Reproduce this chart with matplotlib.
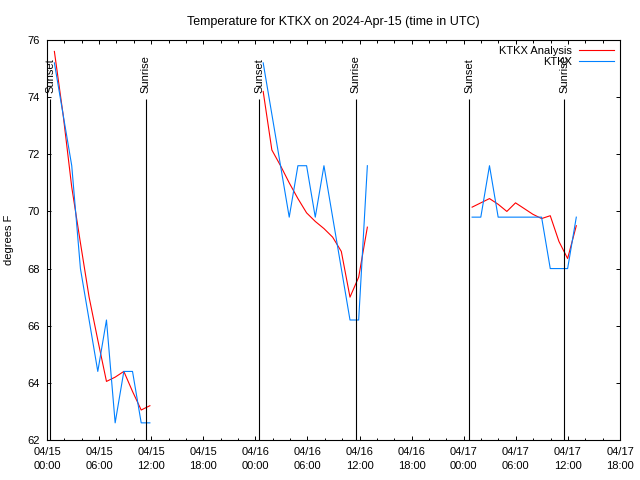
import numpy as np
import matplotlib
matplotlib.use("Agg")
import matplotlib.pyplot as plt
import matplotlib.dates as mdates

# hourly analysis (red) and station obs (blue), three chunks
seg_times = [
    ["2024-04-15T00:51", "2024-04-15T01:51", "2024-04-15T02:51", "2024-04-15T03:51",
     "2024-04-15T04:51", "2024-04-15T05:51", "2024-04-15T06:51", "2024-04-15T07:51",
     "2024-04-15T08:51", "2024-04-15T09:51", "2024-04-15T10:51", "2024-04-15T11:51"],
    ["2024-04-16T00:54", "2024-04-16T01:54", "2024-04-16T02:54", "2024-04-16T03:54",
     "2024-04-16T04:54", "2024-04-16T05:54", "2024-04-16T06:54", "2024-04-16T07:54",
     "2024-04-16T08:54", "2024-04-16T09:54", "2024-04-16T10:54", "2024-04-16T11:54",
     "2024-04-16T12:54"],
    ["2024-04-17T00:58", "2024-04-17T01:58", "2024-04-17T02:58", "2024-04-17T03:58",
     "2024-04-17T04:58", "2024-04-17T05:58", "2024-04-17T06:58", "2024-04-17T07:58",
     "2024-04-17T08:58", "2024-04-17T09:58", "2024-04-17T10:58", "2024-04-17T11:58",
     "2024-04-17T12:58"],
]
analysis = [
    [75.6, 73.4, 70.85, 68.9, 67.0, 65.5, 64.05, 64.2, 64.4, 63.7, 63.05, 63.2],
    [74.2, 72.15, 71.6, 71.0, 70.45, 69.95, 69.65, 69.4, 69.1, 68.6, 67.0, 67.7, 69.45],
    [70.15, 70.3, 70.45, 70.25, 70.0, 70.3, 70.1, 69.9, 69.75, 69.85, 68.95, 68.35, 69.5],
]
obs = [
    [75.2, 73.4, 71.6, 68.0, 66.2, 64.4, 66.2, 62.6, 64.4, 64.4, 62.6, 62.6],
    [75.2, 73.4, 71.6, 69.8, 71.6, 71.6, 69.8, 71.6, 69.8, 68.0, 66.2, 66.2, 71.6],
    [69.8, 69.8, 71.6, 69.8, 69.8, 69.8, 69.8, 69.8, 69.8, 68.0, 68.0, 68.0, 69.8],
]
sunsets = ["2024-04-15T00:21", "2024-04-16T00:27", "2024-04-17T00:38"]
sunrises = ["2024-04-15T11:23", "2024-04-16T11:33", "2024-04-17T11:35"]

xmin, xmax = "2024-04-15T00:00", "2024-04-17T18:00"
ymin, ymax = 62, 76

plt.rcParams['font.family'] = ['Liberation Sans', 'DejaVu Sans']
plt.rcParams['font.size'] = 8

todt = lambda l: np.array(l, dtype='datetime64[m]').astype('O')

fig = plt.figure(figsize=(6.4, 4.8), dpi=100)
ax = fig.add_axes([47/640, 40/480, 573/640, 400/480])

for i in range(len(seg_times)):
    t = todt(seg_times[i])
    ax.plot(t, analysis[i], color='#ff0000', lw=0.8, label='KTKX Analysis' if i == 0 else None)
    ax.plot(t, obs[i], color='#0080ff', lw=0.8, label='KTKX' if i == 0 else None)

for name, lst in (("Sunset", sunsets), ("Sunrise", sunrises)):
    for s in todt(lst):
        ax.vlines(s, ymin, 73.92, color='black', lw=0.8)
        ax.text(s, 74.15, name, rotation=90, ha='center', va='bottom', fontsize=8)

ax.set_xlim(todt([xmin])[0], todt([xmax])[0])
ax.set_ylim(ymin, ymax)
ax.set_yticks(np.arange(62, 77, 2))
ax.xaxis.set_major_locator(mdates.HourLocator(byhour=[0, 6, 12, 18]))
ax.xaxis.set_minor_locator(mdates.HourLocator(byhour=range(0, 24, 2)))
ax.xaxis.set_major_formatter(mdates.DateFormatter('%m/%d\n%H:%M'))
ax.tick_params(which='major', direction='in', length=3.2, width=0.7, top=True, right=True, pad=5)
ax.tick_params(which='minor', direction='in', length=1.8, width=0.7, top=True)
for lbl in ax.get_xticklabels():
    lbl.set_linespacing(1.45)
for sp in ax.spines.values():
    sp.set_linewidth(0.8)

ax.set_ylabel('degrees F', labelpad=10)
ax.set_title('Temperature for KTKX on 2024-Apr-15 (time in UTC)', fontsize=9, pad=11)
ax.legend(loc='upper right', frameon=False, markerfirst=False, handlelength=3.2,
          borderaxespad=0.1, labelspacing=0.1, handletextpad=0.6)

fig.savefig('out.png', dpi=100)
